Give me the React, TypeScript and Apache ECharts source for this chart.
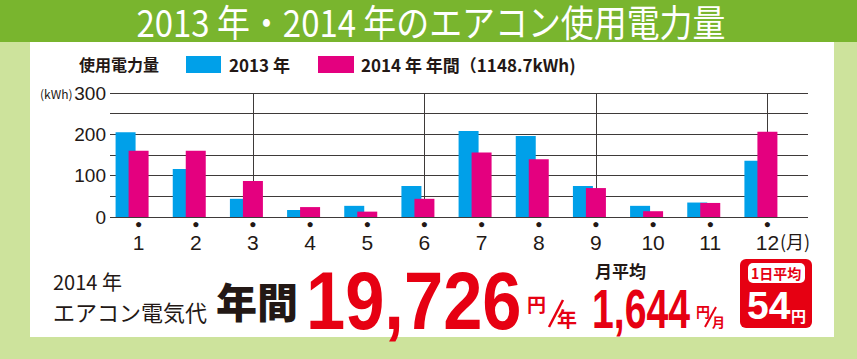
import React, { useEffect, useRef } from 'react';
import * as echarts from 'echarts';

const months = ['1', '2', '3', '4', '5', '6', '7', '8', '9', '10', '11', '12'];
const usage2013 = [205, 116, 44, 17, 27, 75, 208, 196, 75, 27, 35, 136];
const usage2014 = [160, 160, 87, 24, 13, 44, 156, 140, 70, 14, 34, 206];
const yLabelTicks = [0, 100, 200, 300];
const quarterMonths = ['3', '6', '9', '12'];
const seriesNames = ['2013 年', '2014 年'];
const legendTitle = '使用電力量';
const annualNote = '年間（1148.7kWh)';
const titleText = '2013 年・2014 年のエアコン使用電力量';
const annualCost = '19,726';
const monthlyCost = '1,644';
const dailyCost = '54';

const JP = '"Noto Sans CJK JP", "Noto Sans", sans-serif';
const NUM = '"Liberation Sans", Arial, sans-serif';
const INK = '#231815';
const RED = '#e60012';
const BLUE = '#00a0e9';
const PINK = '#e4007f';
const LINE = '#3e3a39';

export default function App() {
  const ref = useRef<HTMLDivElement>(null);
  useEffect(() => {
    document.body.style.margin = '0';
    const chart = echarts.init(ref.current!, null, { renderer: 'svg' });
    const txt = (text: string, x: number, y: number, size: number, opts: any = {}) => ({
      type: 'text',
      x,
      y,
      scaleX: opts.scaleX ?? 1,
      z: opts.z ?? 10,
      style: {
        text,
        fill: opts.fill ?? INK,
        fontSize: size,
        fontFamily: opts.family ?? JP,
        fontWeight: opts.weight ?? 'normal',
        align: opts.align ?? 'left',
        verticalAlign: opts.va ?? 'middle',
      },
    });
    const option: any = {
      animation: false,
      backgroundColor: '#cde39c',
      graphic: [
        { type: 'rect', z: -5, shape: { x: 0, y: 0, width: 857, height: 42 }, style: { fill: '#79b52e' } },
        { type: 'rect', z: -5, shape: { x: 30, y: 42, width: 804, height: 295 }, style: { fill: '#ffffff' } },
        txt(titleText, 431, 21, 37, { fill: '#ffffff', align: 'center', scaleX: 0.89 }),
        txt(legendTitle, 79, 64, 16, { weight: 'bold' }),
        { type: 'rect', z: 10, shape: { x: 186, y: 56, width: 35, height: 17 }, style: { fill: BLUE } },
        txt(seriesNames[0], 229, 64, 17, { weight: 'bold' }),
        { type: 'rect', z: 10, shape: { x: 318, y: 56, width: 36, height: 17 }, style: { fill: PINK } },
        txt(seriesNames[1] + ' ' + annualNote, 361, 64, 17, { weight: 'bold' }),
        txt('(kWh)', 40, 93, 12),
        txt('(月)', 780, 241, 18),
        txt('2014 年', 53, 281, 20),
        txt('エアコン電気代', 53, 311, 22),
        txt('年間', 216, 300, 41, { weight: 900 }),
        txt(annualCost, 306, 301, 81, { family: NUM, weight: 'bold', fill: RED, scaleX: 0.87 }),
        txt('円', 527, 303, 19, { fill: RED, weight: 'bold' }),
        { type: 'line', z: 10, shape: { x1: 549, y1: 327, x2: 563, y2: 300 }, style: { stroke: RED, lineWidth: 2.5 } },
        txt('年', 557, 318, 20, { fill: RED, weight: 'bold' }),
        txt('月平均', 595, 270, 17, { weight: 'bold' }),
        txt(monthlyCost, 592, 308, 56, { family: NUM, weight: 'bold', fill: RED, scaleX: 0.7 }),
        txt('円', 696, 311, 14, { fill: RED, weight: 'bold' }),
        { type: 'line', z: 10, shape: { x1: 705, y1: 327, x2: 716, y2: 307 }, style: { stroke: RED, lineWidth: 2 } },
        txt('月', 712, 321, 13, { fill: RED, weight: 'bold' }),
        { type: 'rect', z: 10, shape: { x: 740, y: 259, width: 72, height: 69, r: 6 }, style: { fill: RED } },
        { type: 'rect', z: 11, shape: { x: 748, y: 263, width: 57, height: 20, r: 5 }, style: { fill: '#ffffff' } },
        txt('1日平均', 776, 273, 14, { fill: RED, weight: 'bold', align: 'center', z: 12 }),
        txt(dailyCost, 747, 305, 39, { family: NUM, weight: 'bold', fill: '#ffffff', z: 12 }),
        txt('円', 791, 315, 15, { fill: '#ffffff', weight: 'bold', z: 12 }),
      ],
      grid: [
        { left: 110, top: 93, width: 698, height: 124 },
        { left: 110, top: 93, width: 686, height: 124 },
      ],
      xAxis: [
        { type: 'value', gridIndex: 0, show: false, min: 0, max: 1 },
        {
          type: 'category',
          gridIndex: 1,
          data: months,
          axisLine: { show: false },
          axisTick: { show: false },
          axisLabel: {
            margin: 1,
            interval: 0,
            formatter: (v: string) => '{d|●}\n{n|' + v + '}',
            rich: {
              d: { fontSize: 12, lineHeight: 12, color: INK, fontFamily: NUM },
              n: { fontSize: 21, lineHeight: 24, color: INK, fontFamily: NUM },
            },
          },
        },
      ],
      yAxis: [
        {
          type: 'value',
          gridIndex: 0,
          min: 0,
          max: 300,
          interval: 50,
          axisLine: { show: false },
          axisTick: { show: false },
          splitLine: { lineStyle: { color: LINE, width: 1 } },
          axisLabel: {
            margin: 4,
            fontSize: 19,
            color: INK,
            fontFamily: NUM,
            formatter: (v: number) => (yLabelTicks.includes(v) ? String(v) : ''),
          },
        },
        { type: 'value', gridIndex: 1, min: 0, max: 300, show: false },
      ],
      series: [
        {
          type: 'line',
          name: 'quarters',
          xAxisIndex: 1,
          yAxisIndex: 1,
          data: months.map(() => '-'),
          symbol: 'none',
          z: 1,
          markLine: {
            z: 1,
            silent: true,
            symbol: 'none',
            label: { show: false },
            lineStyle: { color: LINE, width: 1, type: 'solid' },
            data: quarterMonths.map((m) => ({ xAxis: m })),
          },
        },
        {
          type: 'bar',
          name: seriesNames[0],
          xAxisIndex: 1,
          yAxisIndex: 1,
          barWidth: 20,
          barGap: '-35%',
          itemStyle: { color: BLUE },
          data: usage2013,
          z: 3,
        },
        {
          type: 'bar',
          name: seriesNames[1],
          xAxisIndex: 1,
          yAxisIndex: 1,
          barWidth: 20,
          barGap: '-35%',
          itemStyle: { color: PINK },
          data: usage2014,
          z: 4,
        },
        {
          type: 'bar',
          name: 'spacer',
          xAxisIndex: 1,
          yAxisIndex: 1,
          barWidth: 20,
          barGap: '-35%',
          data: months.map(() => '-'),
          z: 1,
        },
      ],
    };
    chart.setOption(option);
    return () => chart.dispose();
  }, []);
  return <div ref={ref} style={{ width: 857, height: 359 }} />;
}
